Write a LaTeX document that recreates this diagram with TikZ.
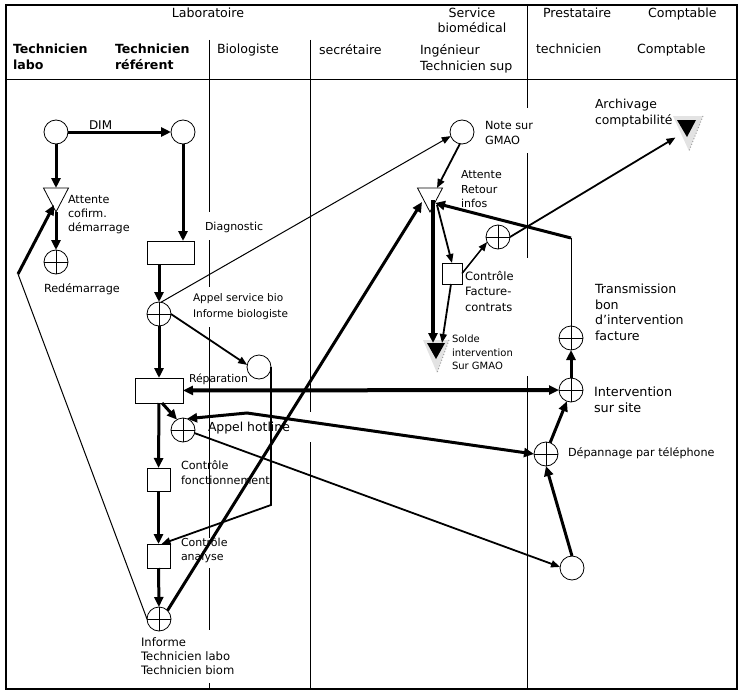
\documentclass[tikz,border=0pt]{standalone}
\usepackage{fontspec}
\setmainfont{DejaVu Sans}
\usetikzlibrary{arrows.meta}
\begin{document}
\begin{tikzpicture}[x=1pt,y=-1pt,
  every node/.style={inner sep=0pt, outer sep=0pt},
  lbl/.style={anchor=north west, align=left},
  shp/.style={line width=0.8pt},
  circ/.style={circle, draw, line width=0.8pt, fill=white, minimum size=24pt},
  crossc/.style={circ, path picture={\draw[line width=0.8pt] (path picture bounding box.north) -- (path picture bounding box.south) (path picture bounding box.west) -- (path picture bounding box.east);}},
  boxn/.style={draw, line width=0.8pt, fill=white},
  tribox/.style={minimum width=25pt, minimum height=24pt},
  lane/.style={line width=0.9pt},
  thk/.style={line width=3pt},
  vthk/.style={line width=4pt},
  med/.style={line width=1.8pt},
  thn/.style={line width=1pt},
  ar/.style={-{Triangle[length=10pt,width=9pt]}},
  arS/.style={-{Triangle[length=9pt,width=7pt]}},
  dar/.style={{Triangle[length=10pt,width=9pt]}-{Triangle[length=10pt,width=9pt]}},
  hf/.style={font=\fontsize{12.6}{16}\selectfont},
  hb/.style={font=\fontsize{12.6}{16}\selectfont\bfseries}
]
\useasboundingbox (0,0) rectangle (742,693);
% frame and header
\draw[line width=1.3pt] (6,5) rectangle (737,689);
\draw[line width=1pt] (6,80) -- (737,80);
% lanes
\draw[lane] (209,40) -- (209,212) (209,240) -- (209,287) (209,327) -- (209,538) (209,568) -- (209,630) (209,683) -- (209,689);
\draw[lane] (310,40) -- (310,412) (310,442) -- (310,689);
\draw[lane] (527,5) -- (527,108) (527,153) -- (527,258) (527,376) -- (527,689);

% header texts
\node[hf, anchor=north] (hLab) at (208,8) {Laboratoire};
\node[hf, anchor=north, align=center, font=\fontsize{12.6}{15}\selectfont] (hSB) at (472,8) {Service\\biomédical};
\node[hf, lbl] (hPre) at (543,8) {Prestataire};
\node[hf, lbl] (hCpt) at (648,8) {Comptable};
\node[hb, lbl] (hTL) at (13,44) {Technicien\\labo};
\node[hb, lbl] (hTR) at (115,44) {Technicien\\référent};
\node[hf, lbl] (hBio) at (217,44) {Biologiste};
\node[hf, lbl] (hSec) at (319,44) {secrétaire};
\node[hf, lbl] (hIng) at (420,44) {Ingénieur\\Technicien sup};
\node[hf, lbl] (hTec) at (536,44) {technicien};
\node[hf, lbl] (hCp2) at (637,44) {Comptable};

% nodes
\node[circ] (C1) at (56,132) {};
\node[circ] (C2) at (183,132) {};
\node[tribox] (T1) at (56,200) {};
\draw[shp, fill=white] (T1.north west) -- (T1.north east) -- (T1.south) -- cycle;
\node[crossc] (R1) at (56,262) {};
\node[boxn, minimum width=47pt, minimum height=23pt] (Diag) at (170.5,252.5) {};
\node[crossc] (X1) at (159,314) {};
\node[circ] (B) at (259,367) {};
\node[boxn, minimum width=48pt, minimum height=25pt] (Rep) at (159,390.5) {};
\node[crossc] (H) at (183,430) {};
\node[boxn, minimum width=23pt, minimum height=23pt] (CFn) at (158.5,479.5) {};
\node[boxn, minimum width=23pt, minimum height=24pt] (CA) at (158.5,556) {};
\node[crossc] (F) at (159,619) {};
\node[circ] (N) at (462,132) {};
\node[tribox] (AR) at (430,200) {};
\draw[shp, fill=white] (AR.north west) -- (AR.north east) -- (AR.south) -- cycle;
\node[boxn, minimum width=20pt, minimum height=21pt] (CF) at (452,273.5) {};
\node[crossc] (Xc) at (498,237) {};
\node[crossc] (T) at (571,338) {};
\node[crossc] (I) at (571,390) {};
\node[crossc] (D) at (546,454) {};
\node[circ] (E) at (572,568) {};
% black triangles with shadow
\fill[gray!22] (423,340) -- (449,340) -- (437,373) -- cycle;
\draw[gray!75, dotted, line width=1pt] (449,340) -- (437,373);
\fill (427,343) -- (445,343) -- (436,359) -- cycle;
\node[minimum width=18pt, minimum height=16pt] (S) at (436,351) {};
\fill[gray!22] (673,116) -- (703,116) -- (689,151) -- cycle;
\draw[gray!75, dotted, line width=1pt] (703,116) -- (689,151);
\fill (677,120) -- (696,120) -- (687,137) -- cycle;
\node[minimum width=19pt, minimum height=17pt] (Arch) at (686.5,128.5) {};

% bend points
\coordinate (b1) at (271,505);
\coordinate (h1) at (247,413);
\coordinate (t1) at (571,238);
\coordinate (f1) at (18,274);

% connectors
\draw[thk,ar] (C1) -- (C2);
\draw[thk,ar] (C1) -- (T1);
\draw[thk,ar] (T1.south) -- (R1);
\draw[thk,ar] (C2) -- (C2 |- Diag.north);
\draw[thk,ar] (Diag.south -| X1) -- (X1);
\draw[thn,arS] (X1.80) -- (N.200);
\draw[med,arS] (X1.east) -- (B.170);
\draw[med,arS] (B.east) -- (b1) -- ([xshift=3pt]CA.north);
\draw[thk,ar] (X1) -- (Rep);
\draw[vthk,dar] (Rep) -- (I);
\draw[thk,ar] ([xshift=3pt]Rep.south) -- (H.120);
\draw[thk,dar] (H.70) -- (h1) -- (D.west);
\draw[med,arS] (H.-15) -- (E.175);
\draw[thk,ar] (E.north) -- (D.south);
\draw[thk,ar] (D.70) -- (I.250);
\draw[thk,ar] (I) -- (T);
\draw[thn] (T.north) -- (t1);
\draw[thk,ar] (t1) -- ([shift={(5,3)}]AR.center);
\draw[thk,ar] (F.45) -- ([shift={(-8,2)}]AR.center);
\draw[thn] (F.west) -- (f1);
\draw[thk,ar] (f1) -- ([shift={(-2,5)}]T1.center);
\draw[thk,ar] (Rep) -- (CFn);
\draw[thk,ar] (CFn) -- (CA);
\draw[thk,ar] (CA) -- (F);
\draw[med,arS] (N.-100) -- ([shift={(7,-12)}]AR.center);
\draw[vthk,ar] ([xshift=3pt]AR.center) -- ([xshift=3pt]AR.center |- S.north);
\draw[med,arS] ([shift={(7,5)}]AR.center) -- (CF.north);
\draw[med,arS] ([xshift=-1pt]CF.south) -- ([xshift=6pt]S.north);
\draw[line width=1.5pt,arS] (CF.east) -- (Xc.205);
\draw[med,arS] (Xc.east) -- ([shift={(-11,9)}]Arch.center);

% labels
\node[lbl, font=\fontsize{12}{16}\selectfont] (lDIM) at (89,121) {DIM};
\node[lbl, font=\fontsize{11.2}{14}\selectfont] (lAtt) at (68,195.5) {Attente\\cofirm.\\démarrage};
\node[lbl, font=\fontsize{11.2}{14}\selectfont] (lRed) at (44,283.5) {Redémarrage};
\node[lbl, font=\fontsize{11}{14}\selectfont] (lDiag) at (205,222.5) {Diagnostic};
\node[lbl, font=\fontsize{10.5}{16}\selectfont] (lAppel) at (193,293.5) {Appel service bio\\Informe biologiste};
\node[lbl, font=\fontsize{10.8}{14}\selectfont] (lRep) at (189,373.5) {Réparation};
\node[lbl, font=\fontsize{12.4}{16}\selectfont] (lHot) at (208,422) {Appel hotline};
\node[lbl, font=\fontsize{11.2}{15}\selectfont] (lCFn) at (181,460.5) {Contrôle\\fonctionnement};
\node[lbl, font=\fontsize{11}{14}\selectfont] (lCA) at (181,537.5) {Contrôle\\analyse};
\node[lbl, font=\fontsize{11.6}{14}\selectfont] (lInf) at (141,638) {Informe\\Technicien labo\\Technicien biom};
\node[lbl, font=\fontsize{11.3}{15}\selectfont] (lNote) at (485,121.5) {Note sur\\GMAO};
\node[lbl, font=\fontsize{11}{14.5}\selectfont] (lAR) at (461,170.5) {Attente\\Retour\\infos};
\node[lbl, font=\fontsize{11.5}{15.5}\selectfont] (lCF) at (465,271) {Contrôle\\Facture-\\contrats};
\node[lbl, font=\fontsize{10}{13.5}\selectfont] (lSolde) at (452,335) {Solde\\intervention\\Sur GMAO};
\node[lbl, font=\fontsize{12.4}{16}\selectfont] (lArch) at (595,99) {Archivage\\comptabilité};
\node[lbl, font=\fontsize{12.6}{15.7}\selectfont] (lTr) at (595,284) {Transmission\\bon\\d’intervention\\facture};
\node[lbl, font=\fontsize{12.8}{16}\selectfont] (lInt) at (594,386.5) {Intervention\\sur site};
\node[lbl, font=\fontsize{11.2}{14}\selectfont] (lDep) at (568,447.5) {Dépannage par téléphone};
\end{tikzpicture}
\end{document}
